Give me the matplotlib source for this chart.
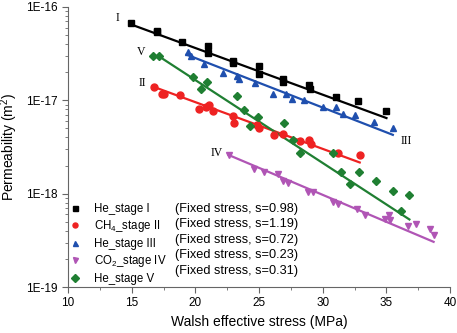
import numpy as np
import matplotlib
matplotlib.use('Agg')
from matplotlib import pyplot as plt
from matplotlib.lines import Line2D
from matplotlib.ticker import LogLocator, NullFormatter, MultipleLocator

plt.rcParams['font.family'] = ['Liberation Sans', 'DejaVu Sans']
plt.rcParams['mathtext.fontset'] = 'custom'
plt.rcParams['mathtext.rm'] = 'Liberation Sans'

# stage I (He)
x1 = [14.95, 17.0, 17.0, 18.93, 20.96, 21.0, 22.96, 22.96, 25.0, 25.0, 26.9, 26.9, 28.9, 29.0, 31.0, 32.8, 35.0]
y1 = [6.7e-17, 5.5e-17, 5.4e-17, 4.2e-17, 3.85e-17, 3.2e-17, 2.66e-17, 2.5e-17, 2.34e-17, 1.9e-17,
      1.7e-17, 1.58e-17, 1.45e-17, 1.32e-17, 1.08e-17, 9.8e-18, 7.7e-18]
# stage II (CH4)
x2 = [16.75, 17.4, 17.54, 18.75, 20.3, 20.84, 21.08, 21.37, 22.94, 23.04, 24.8, 24.98, 26.13, 26.9,
      28.2, 28.9, 29.07, 31.23, 32.94]
y2 = [1.40e-17, 1.17e-17, 1.17e-17, 1.14e-17, 8.0e-18, 8.5e-18, 8.9e-18, 7.6e-18, 6.8e-18, 5.75e-18,
      5.5e-18, 5.0e-18, 4.26e-18, 4.4e-18, 3.7e-18, 3.76e-18, 3.4e-18, 2.75e-18, 2.6e-18]
# stage III (He)
x3 = [19.4, 19.66, 20.7, 22.15, 23.3, 23.45, 24.7, 26.1, 27.1, 27.6, 28.5, 30.0, 31.05, 31.6, 32.5, 34.0, 35.5]
y3 = [3.3e-17, 2.95e-17, 2.45e-17, 1.95e-17, 1.82e-17, 1.68e-17, 1.55e-17, 1.17e-17, 1.17e-17, 1.03e-17,
      1.0e-17, 8.4e-18, 8.5e-18, 7.2e-18, 6.9e-18, 5.9e-18, 5.0e-18]
# stage IV (CO2)
x4 = [22.6, 24.6, 25.4, 26.5, 26.87, 27.3, 28.83, 29.27, 30.84, 31.23, 32.67, 33.33, 34.9, 35.2, 35.3,
      36.7, 37.3, 38.4, 38.7]
y4 = [2.6e-18, 1.82e-18, 1.72e-18, 1.61e-18, 1.38e-18, 1.29e-18, 1.05e-18, 1.05e-18, 8.2e-19, 7.75e-19,
      6.9e-19, 5.9e-19, 5.4e-19, 5.9e-19, 5.2e-19, 4.5e-19, 4.7e-19, 4.15e-19, 3.6e-19]
# stage V (He)
x5 = [16.65, 17.1, 19.8, 20.4, 20.9, 23.3, 23.8, 24.25, 24.95, 26.97, 27.65, 28.2, 30.84, 31.4, 32.86,
      32.1, 34.14, 35.5, 36.76, 36.16]
y5 = [3.0e-17, 3.0e-17, 1.76e-17, 1.32e-17, 1.58e-17, 1.12e-17, 7.9e-18, 5.3e-18, 6.6e-18, 5.75e-18,
      3.76e-18, 2.7e-18, 2.73e-18, 1.72e-18, 1.72e-18, 1.26e-18, 1.36e-18, 1.07e-18, 9.8e-19, 6.45e-19]

# fitted lines (end points)
fit_x = {'I': [15.0, 35.0], 'II': [16.75, 32.9], 'III': [19.3, 35.5], 'IV': [22.6, 38.7], 'V': [17.1, 36.8]}
fit_y = {'I': [6.46e-17, 6.46e-18], 'II': [1.39e-17, 2.16e-18], 'III': [3.09e-17, 4.27e-18],
         'IV': [2.6e-18, 3.05e-19], 'V': [2.98e-17, 5.3e-19]}

names = ['He_stage I', 'CH$_4$_stage II', 'He_stage III', 'CO$_2$_stage IV', 'He_stage V']
fixed = ['(Fixed stress, s=0.98)', '(Fixed stress, s=1.19)', '(Fixed stress, s=0.72)',
         '(Fixed stress, s=0.23)', '(Fixed stress, s=0.31)']
roman = ['I', 'II', 'III', 'IV', 'V']
label_x = [13.85, 15.8, 36.55, 21.7, 15.7]
label_y = [7.6e-17, 1.55e-17, 3.7e-18, 2.75e-18, 3.3e-17]

colors = ['black', '#ee2222', '#1f4fae', '#b055b5', '#1f7f32']
markers = ['s', 'o', '^', 'v', 'D']
msizes = [4.5, 5, 5, 5, 4.2]
xs = [x1, x2, x3, x4, x5]
ys = [y1, y2, y3, y4, y5]

fig = plt.figure(figsize=(4.57, 3.33), dpi=100)
ax = fig.add_axes([0.149, 0.138, 0.836, 0.841])

for i in range(5):
    r = roman[i]
    ax.plot(fit_x[r], fit_y[r], color=colors[i], lw=1.6, zorder=2)
    ax.plot(xs[i], ys[i], ls='none', marker=markers[i], ms=msizes[i], color=colors[i], zorder=3)
    ax.text(label_x[i], label_y[i], r, family=['Liberation Serif'], fontsize=8.5, ha='center', va='center')

ax.set_yscale('log')
ax.set_xlim(10, 40)
ax.set_ylim(1e-19, 1e-16)
ax.set_yticks([1e-19, 1e-18, 1e-17, 1e-16])
ax.set_yticklabels(['1E-19', '1E-18', '1E-17', '1E-16'])
ax.yaxis.set_minor_locator(LogLocator(base=10, subs=np.arange(2, 10)))
ax.yaxis.set_minor_formatter(NullFormatter())
ax.xaxis.set_major_locator(MultipleLocator(5))
ax.xaxis.set_minor_locator(MultipleLocator(2.5))
ax.spines['top'].set_visible(False)
ax.spines['right'].set_visible(False)
ax.tick_params(which='major', direction='out', length=4, labelsize=8.5, color='#666666')
ax.tick_params(which='minor', direction='out', length=2.5, color='#666666')
ax.spines['left'].set_color('#666666')
ax.spines['bottom'].set_color('#666666')
ax.set_xlabel('Walsh effective stress (MPa)', fontsize=10)
ax.set_ylabel('Permeability (m$^2$)', fontsize=10)

handles = [Line2D([], [], ls='none', marker=markers[i], ms=3.6, color=colors[i]) for i in range(5)]
blanks = [Line2D([], [], ls='none') for i in range(5)]
leg = ax.legend(handles + blanks, names + fixed, ncol=2, loc='lower left', bbox_to_anchor=(-0.014, -0.016),
                frameon=False, fontsize=8.3, handlelength=1.0, handletextpad=1.15, columnspacing=-1.45,
                labelspacing=0.3, borderaxespad=0.2)
for t in leg.get_texts()[5:]:
    t.set_fontsize(9.2)

fig.savefig('out.png', dpi=100)
